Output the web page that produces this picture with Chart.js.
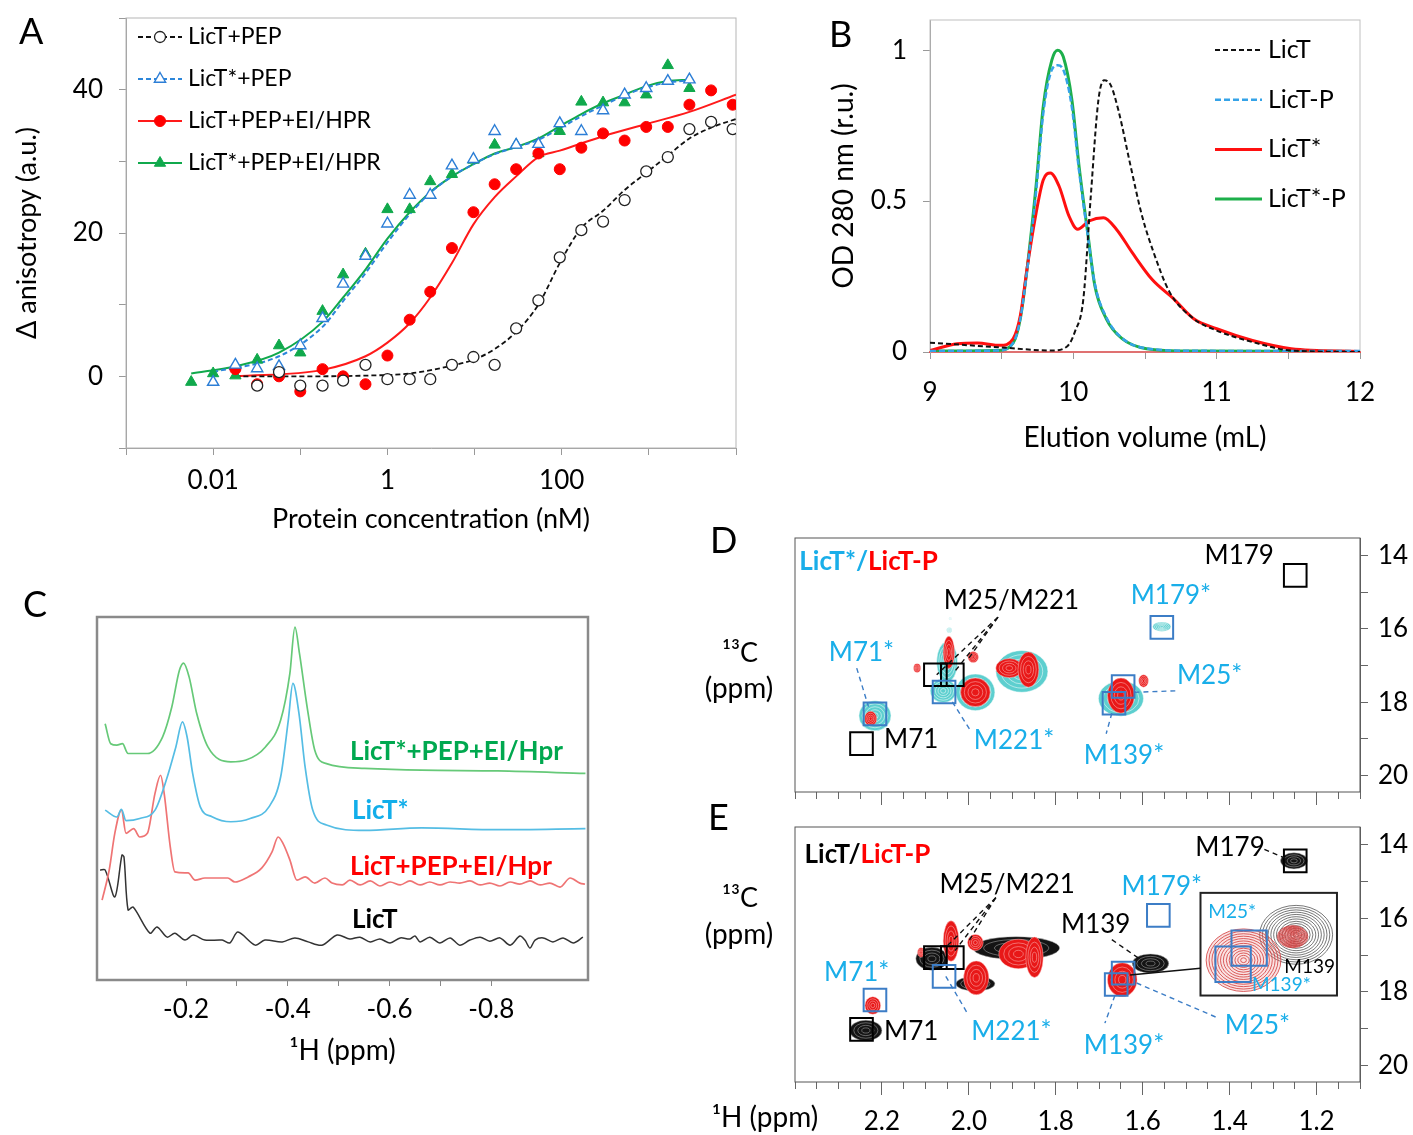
<!DOCTYPE html>
<html>
<head>
<meta charset="utf-8">
<title>LicT figure</title>
<script src="https://cdn.jsdelivr.net/npm/chart.js@4.4.1/dist/chart.umd.min.js"></script>
<style>
  html, body { margin: 0; padding: 0; background: #fff; }
  #page { position: relative; width: 1413px; height: 1135px; overflow: hidden; background: #fff; }
  #page canvas { position: absolute; }
  .tag { position: absolute; font: 36px Lato, "DejaVu Sans", sans-serif; line-height: 36px; color: #000; }
</style>
</head>
<body>
<div id="page">
  <canvas id="chartA" width="760" height="540" style="left:0px;top:0px"></canvas>
  <canvas id="chartB" width="613" height="460" style="left:800px;top:0px"></canvas>
  <canvas id="chartC" width="600" height="500" style="left:0px;top:580px"></canvas>
  <canvas id="chartD" width="713" height="290" style="left:700px;top:520px"></canvas>
  <canvas id="chartE" width="713" height="335" style="left:700px;top:800px"></canvas>
  <div class="tag" style="left:19px;top:12px">A</div>
  <div class="tag" style="left:829px;top:15px">B</div>
  <div class="tag" style="left:23px;top:585px">C</div>
  <div class="tag" style="left:710px;top:521px">D</div>
  <div class="tag" style="left:708px;top:798px">E</div>
</div>
<script>
const FONT = 'Lato, "DejaVu Sans", sans-serif';
const CYAN_TXT = '#19AEE9';
const BOX_BLUE = '#3C7DC6';

// ---------- A: anisotropy titration (nM, a.u.) ----------
const concPEP = [0.032, 0.057, 0.10, 0.18, 0.31, 0.56, 1.0, 1.8, 3.1, 5.5, 9.7, 17, 30, 54, 95, 168, 298, 527, 933, 1650, 2920, 5180, 9160];
const anisoPEP = [-1.3, 0.6, -1.3, -1.3, -0.6, 1.6, -0.4, -0.4, -0.4, 1.6, 2.7, 1.6, 6.7, 10.6, 16.6, 20.4, 21.6, 24.6, 28.6, 30.6, 34.5, 35.5, 34.5];
const concStarPEP = [0.01, 0.018, 0.032, 0.057, 0.10, 0.18, 0.31, 0.56, 1.0, 1.8, 3.1, 5.5, 9.7, 17, 30, 54, 95, 168, 298, 527, 933, 1650, 2920];
const anisoStarPEP = [-0.8, 1.6, 1.1, 1.4, 4.3, 8.1, 12.9, 16.8, 21.3, 25.3, 25.3, 29.4, 30.3, 34.2, 32.3, 32.4, 35.3, 34.2, 37.1, 39.3, 40.2, 41.2, 41.4];
const concEI = [0.018, 0.032, 0.057, 0.10, 0.18, 0.31, 0.56, 1.0, 1.8, 3.1, 5.5, 9.7, 17, 30, 54, 95, 168, 298, 527, 933, 1650, 2920, 5180, 9160];
const anisoEI = [1.0, -1.1, 0, -2.1, 1.0, 0, -1.1, 2.9, 7.9, 11.8, 17.9, 22.9, 26.8, 28.9, 31.1, 28.9, 31.9, 33.9, 32.9, 34.8, 34.8, 37.9, 39.9, 37.9];
const concStarEI = [0.0056, 0.01, 0.018, 0.032, 0.057, 0.10, 0.18, 0.31, 0.56, 1.0, 1.8, 3.1, 5.5, 9.7, 17, 30, 54, 95, 168, 298, 527, 933, 1650, 2920];
const anisoStarEI = [-0.8, 0.4, 0.1, 2.3, 4.3, 3.3, 9.1, 14.2, 17.1, 23.3, 23.3, 27.2, 28.2, 30.2, 32.3, 32.3, 31.1, 34.2, 38.3, 38.2, 38.2, 39.3, 43.4, 40.2];
// fitted curves
const fitPEPx = [0.018, 0.1, 0.56, 1.8, 5.5, 9.7, 17, 30, 54, 95, 168, 298, 527, 933, 1650, 2920, 5180, 10000];
const fitPEPy = [0, 0, 0.1, 0.4, 1.5, 2.3, 3.8, 6.2, 10, 15.8, 20.7, 23.1, 26, 28.4, 30.8, 33.2, 34.7, 35.9];
const fitStarPEPx = [0.01, 0.057, 0.18, 0.31, 0.56, 1.0, 1.8, 3.1, 5.5, 9.7, 17, 30, 54, 95, 168, 298, 527, 933, 1650, 2920];
const fitStarPEPy = [0.6, 2.8, 6.9, 10.5, 14.4, 18.7, 22.6, 25.6, 27.9, 29.6, 31.0, 32, 33, 34.6, 36.3, 37.8, 39.2, 40.3, 41.0, 41.3];
const fitEIx = [0.018, 0.18, 0.56, 1.0, 1.8, 3.1, 5.5, 9.7, 17, 30, 54, 95, 298, 933, 2920, 10000];
const fitEIy = [0, 0.9, 2.8, 4.7, 7.4, 11, 15.8, 21.2, 25, 27.9, 30.6, 31.5, 33.5, 35.2, 36.9, 39.3];
const fitStarEIx = [0.0056, 0.018, 0.057, 0.18, 0.31, 0.56, 1.0, 1.8, 3.1, 5.5, 9.7, 17, 30, 54, 95, 168, 298, 527, 933, 1650, 2920];
const fitStarEIy = [0.4, 1.4, 3.3, 7.6, 11, 14.9, 19.2, 22.9, 25.7, 27.9, 29.6, 31.1, 32, 33.2, 34.9, 36.6, 38.1, 39.3, 40.5, 41.2, 41.4];
const ticksConcLabelled = [0.01, 1, 100];

// ---------- B: size exclusion profiles (mL, OD280) ----------
const elLicT = [9.0, 9.47, 9.85, 9.96, 10.01, 10.07, 10.12, 10.175, 10.215, 10.26, 10.315, 10.4, 10.48, 10.56, 10.67, 10.84, 11.0, 11.25, 11.52, 12.0];
const odLicT = [0.031, 0.016, 0.005, 0.02, 0.066, 0.176, 0.505, 0.835, 0.90, 0.885, 0.80, 0.615, 0.45, 0.33, 0.20, 0.11, 0.071, 0.033, 0.005, 0.0];
const elStar = [9.0, 9.19, 9.33, 9.49, 9.58, 9.63, 9.68, 9.74, 9.79, 9.84, 9.9, 9.97, 10.03, 10.11, 10.21, 10.3, 10.41, 10.55, 10.7, 10.84, 11.0, 11.25, 11.52, 12.0];
const odStar = [0.005, 0.027, 0.03, 0.022, 0.044, 0.12, 0.286, 0.46, 0.57, 0.593, 0.55, 0.45, 0.407, 0.434, 0.445, 0.407, 0.33, 0.24, 0.176, 0.11, 0.077, 0.038, 0.011, 0.002];
const elP = [9.0, 9.47, 9.58, 9.63, 9.68, 9.74, 9.79, 9.85, 9.89, 9.93, 9.99, 10.04, 10.1, 10.15, 10.23, 10.34, 10.51, 10.84, 12.0];
const odLicTP = [0.003, 0.005, 0.03, 0.11, 0.28, 0.53, 0.79, 0.935, 0.95, 0.935, 0.81, 0.6, 0.39, 0.225, 0.115, 0.046, 0.012, 0.004, 0.003];
const odStarP = [0.003, 0.005, 0.03, 0.11, 0.286, 0.55, 0.813, 0.967, 1.0, 0.978, 0.835, 0.615, 0.396, 0.22, 0.11, 0.044, 0.011, 0.003, 0.002];

// ---------- C: 1D 1H spectra (ppm, stacked intensity) ----------
const ppmGreen = [-0.041, -0.052, -0.064, -0.075, -0.086, -0.124, -0.154, -0.172, -0.187, -0.195, -0.206, -0.221, -0.243, -0.288, -0.318, -0.356, -0.386, -0.404, -0.414, -0.423, -0.438, -0.453, -0.476, -0.551, -0.663, -0.813, -0.985];
const intGreen = [70.6, 65.1, 64.7, 65.1, 62.4, 62.4, 67.0, 75.2, 85.3, 87.3, 83.5, 73.4, 64.2, 60.1, 60.6, 64.2, 71.6, 84.4, 97.2, 89.9, 75.2, 63.3, 59.6, 58.3, 57.8, 57.6, 56.9];
const ppmBlue = [-0.041, -0.064, -0.073, -0.082, -0.109, -0.139, -0.161, -0.180, -0.193, -0.202, -0.213, -0.228, -0.251, -0.288, -0.326, -0.363, -0.386, -0.401, -0.410, -0.422, -0.434, -0.449, -0.476, -0.551, -0.663, -0.813, -0.985];
const intBlue = [46.8, 44.9, 47.0, 43.9, 44.5, 46.8, 55.0, 64.2, 71.1, 67.0, 56.9, 47.7, 45.0, 43.6, 44.5, 47.7, 56.0, 71.6, 81.7, 73.4, 58.7, 46.8, 42.7, 41.2, 41.9, 41.4, 41.7];
const ppmRed = [-0.035, -0.049, -0.060, -0.073, -0.082, -0.097, -0.109, -0.124, -0.139, -0.150, -0.157, -0.169, -0.178, -0.204, -0.218, -0.237, -0.263, -0.282, -0.296, -0.322, -0.349, -0.369, -0.381, -0.391, -0.404, -0.418, -0.434, -0.453, -0.473, -0.487, -0.507, -0.522, -0.542, -0.562, -0.581, -0.601, -0.621, -0.640, -0.660, -0.679, -0.699, -0.719, -0.738, -0.758, -0.778, -0.797, -0.817, -0.837, -0.856, -0.876, -0.896, -0.915, -0.935, -0.955, -0.974, -0.984];
const intRed = [22.0, 30.3, 40.4, 46.8, 40.4, 41.7, 39.4, 40.4, 51.4, 56.4, 51.4, 36.7, 29.8, 29.5, 27.5, 28.1, 28.1, 28.1, 27.0, 28.4, 30.9, 35.3, 39.4, 37.5, 33.1, 27.5, 28.4, 26.7, 28.1, 26.7, 26.2, 27.5, 26.2, 27.3, 25.9, 27.0, 26.2, 27.3, 26.2, 27.0, 26.2, 27.0, 26.7, 27.3, 26.2, 26.7, 25.9, 27.0, 26.4, 27.3, 26.2, 26.7, 25.6, 28.1, 26.7, 26.4];
const ppmBlack = [-0.031, -0.041, -0.060, -0.074, -0.078, -0.086, -0.096, -0.129, -0.143, -0.163, -0.178, -0.198, -0.214, -0.237, -0.271, -0.286, -0.302, -0.336, -0.355, -0.389, -0.414, -0.440, -0.467, -0.497, -0.522, -0.542, -0.562, -0.581, -0.601, -0.621, -0.640, -0.650, -0.660, -0.679, -0.699, -0.719, -0.738, -0.758, -0.778, -0.797, -0.817, -0.837, -0.856, -0.866, -0.876, -0.886, -0.902, -0.921, -0.941, -0.961, -0.980];
const intBlack = [30.3, 30.3, 22.9, 34.4, 33.9, 19.3, 20.1, 12.9, 14.6, 11.8, 12.9, 11.0, 12.4, 11.0, 11.0, 10.2, 13.2, 9.6, 11.0, 10.5, 11.6, 10.5, 9.6, 12.4, 11.3, 11.8, 10.5, 11.3, 10.2, 11.6, 11.3, 12.1, 10.5, 11.8, 10.2, 11.6, 9.6, 11.0, 11.8, 10.7, 11.6, 9.6, 12.1, 11.0, 8.8, 11.0, 11.6, 10.5, 11.6, 10.2, 11.8];

// ---------- D/E: 2D methyl spectra, peaks [1H ppm, 13C ppm, half-width 1H, half-width 13C] ----------
const ticksH = [2.2, 2.0, 1.8, 1.6, 1.4, 1.2];
const ticks13C = [14, 15, 16, 17, 18, 19, 20];
const labels13C = [14, 16, 18, 20];
const peaksStarD = [
  [2.216, 18.37, 0.037, 0.41], [2.059, 17.69, 0.030, 0.32], [2.050, 16.90, 0.024, 0.55],
  [2.045, 16.03, 0.006, 0.07], [2.043, 15.72, 0.003, 0.04], [1.985, 17.73, 0.045, 0.50],
  [1.878, 17.16, 0.060, 0.57], [1.650, 17.90, 0.052, 0.48], [1.556, 15.94, 0.021, 0.13]
];
const peaksPhosD = [
  [2.226, 18.45, 0.014, 0.20], [2.046, 16.64, 0.013, 0.44], [2.119, 17.07, 0.008, 0.12],
  [1.990, 16.77, 0.012, 0.15], [1.985, 17.73, 0.034, 0.39], [1.907, 17.07, 0.031, 0.26],
  [1.863, 17.11, 0.024, 0.48], [1.650, 17.82, 0.031, 0.48], [1.598, 17.42, 0.011, 0.17]
];
const boxStarD = [[2.216, 18.32], [2.057, 17.72], [1.556, 15.96], [1.645, 17.57], [1.666, 18.03]];
const boxWildD = [[2.247, 19.13], [2.077, 17.25], [2.038, 17.25], [1.249, 14.54]];

const peaksWildE = [
  [2.237, 19.05, 0.037, 0.28], [2.085, 17.10, 0.037, 0.31], [1.891, 16.81, 0.100, 0.31],
  [1.985, 17.78, 0.045, 0.20], [1.582, 17.23, 0.042, 0.26], [1.252, 14.44, 0.031, 0.22]
];
const peaksPhosE = [
  [2.221, 18.37, 0.018, 0.24], [2.041, 16.62, 0.018, 0.55], [2.110, 16.93, 0.008, 0.13],
  [1.985, 16.66, 0.018, 0.22], [1.983, 17.62, 0.029, 0.46], [1.886, 16.97, 0.045, 0.40],
  [1.849, 17.06, 0.020, 0.55], [1.647, 17.67, 0.034, 0.46]
];
const boxStarE = [[2.216, 18.22], [2.057, 17.58], [1.564, 15.92], [1.645, 17.49], [1.661, 17.80]];
const boxWildE = [[2.247, 19.02], [2.077, 17.07], [2.038, 17.07], [1.249, 14.44]];
// magnified view of the M25*/M139 region
const insetWild = [[1.247, 16.45, 0.084, 0.80]];
const insetPhos = [[1.368, 17.14, 0.086, 0.85], [1.255, 16.50, 0.035, 0.30]];
const insetBoxes = [[1.355, 16.81], [1.392, 17.25]];

const pts = (xs, ys) => xs.map((x, i) => ({ x, y: ys[i] }));
const peakPts = arr => arr.map(p => ({ x: p[0], y: p[1], wx: p[2], wy: p[3] }));
const xyPts = arr => arr.map(p => ({ x: p[0], y: p[1] }));
const f = (size, weight) => ({ family: FONT, size, weight: weight || 'normal' });
const near = (a, b) => Math.abs(a - b) < 1e-6;
// fixed axis box sizes, no automatic label overhang padding
const fixW = w => s => { s.width = w; s.paddingTop = 0; s.paddingBottom = 0; s.paddingLeft = 0; s.paddingRight = 0; };
const fixH = h => s => { s.height = h; s.paddingTop = 0; s.paddingBottom = 0; s.paddingLeft = 0; s.paddingRight = 0; };

Chart.defaults.font.family = FONT;
Chart.defaults.color = '#000';
Chart.defaults.animation = false;
Chart.defaults.responsive = false;
Chart.defaults.plugins.legend.display = false;
Chart.defaults.plugins.tooltip.enabled = false;

// box around the plot area
const framePlugin = {
  id: 'frame',
  beforeDatasetsDraw(chart, args, o) {
    if (!o.color) return;
    const a = chart.chartArea, ctx = chart.ctx;
    ctx.save();
    ctx.strokeStyle = o.color; ctx.lineWidth = o.width || 1;
    ctx.strokeRect(a.left, a.top, a.right - a.left, a.bottom - a.top);
    ctx.restore();
  }
};

// legend with line sample + marker
const keyPlugin = {
  id: 'key',
  afterDraw(chart, args, o) {
    if (!o.items) return;
    const ctx = chart.ctx;
    ctx.save();
    ctx.font = o.font; ctx.textBaseline = 'middle';
    o.items.forEach((it, i) => {
      const y = o.y + i * o.dy;
      const ln = chart.data.datasets[it.line];
      ctx.strokeStyle = ln.borderColor; ctx.lineWidth = ln.borderWidth;
      ctx.setLineDash(ln.borderDash || []);
      ctx.beginPath(); ctx.moveTo(o.x, y); ctx.lineTo(o.x + o.len, y); ctx.stroke();
      ctx.setLineDash([]);
      if (it.mark != null) {
        const m = chart.data.datasets[it.mark];
        ctx.fillStyle = m.backgroundColor; ctx.strokeStyle = m.borderColor; ctx.lineWidth = m.borderWidth;
        Chart.helpers.drawPoint(ctx, { pointStyle: m.pointStyle, radius: m.pointRadius, rotation: 0, borderWidth: m.borderWidth }, o.x + o.len / 2, y);
      }
      ctx.fillStyle = '#000';
      ctx.fillText(ln.label, o.x + o.len + o.gap, y);
    });
    ctx.restore();
  }
};

// text labels and leader lines placed in data coordinates (or canvas px)
const notesPlugin = {
  id: 'notes',
  afterDatasetsDraw(chart, args, o) {
    const ctx = chart.ctx, xs = chart.scales.x, ys = chart.scales.y;
    const P = (t, k) => t.px ? t[k] : (k === 'x' ? xs.getPixelForValue(t.x) : ys.getPixelForValue(t.y));
    ctx.save();
    (o.lines || []).forEach(l => {
      ctx.strokeStyle = l.color; ctx.lineWidth = l.width || 1.4; ctx.setLineDash(l.dash || []);
      ctx.beginPath();
      ctx.moveTo(xs.getPixelForValue(l.x1), ys.getPixelForValue(l.y1));
      ctx.lineTo(xs.getPixelForValue(l.x2), ys.getPixelForValue(l.y2));
      ctx.stroke();
    });
    ctx.setLineDash([]);
    (o.texts || []).forEach(t => {
      ctx.font = t.font; ctx.textBaseline = 'middle'; ctx.textAlign = 'left';
      const parts = t.parts || [[t.text, t.color]];
      const total = parts.reduce((s, p) => s + ctx.measureText(p[0]).width, 0);
      let x = P(t, 'x');
      const y = P(t, 'y');
      if (t.align === 'center') x -= total / 2; else if (t.align === 'right') x -= total;
      parts.forEach(p => { ctx.fillStyle = p[1]; ctx.fillText(p[0], x, y); x += ctx.measureText(p[0]).width; });
    });
    ctx.restore();
  }
};

function drawBlob(ctx, cx, cy, rx, ry, c) {
  if (c.fill) {
    ctx.fillStyle = c.fill;
    ctx.beginPath(); ctx.ellipse(cx, cy, rx, ry, 0, 0, 2 * Math.PI); ctx.fill();
  }
  ctx.strokeStyle = c.ring; ctx.lineWidth = c.lineWidth;
  for (let k = c.levels; k >= 1; k--) {
    const s = k / c.levels;
    ctx.beginPath(); ctx.ellipse(cx, cy, rx * s, ry * s, 0, 0, 2 * Math.PI); ctx.stroke();
  }
}

// contour-like peaks + optional magnified inset
const contourPlugin = {
  id: 'contours',
  beforeDatasetsDraw(chart, args, o) {
    const ctx = chart.ctx, xs = chart.scales.x, ys = chart.scales.y, a = chart.chartArea;
    ctx.save();
    ctx.beginPath(); ctx.rect(a.left, a.top, a.right - a.left, a.bottom - a.top); ctx.clip();
    chart.data.datasets.forEach((ds, i) => {
      if (!ds.contour) return;
      const meta = chart.getDatasetMeta(i);
      ds.data.forEach((p, j) => {
        const el = meta.data[j];
        const rx = Math.abs(xs.getPixelForValue(p.x + p.wx) - el.x);
        const ry = Math.abs(ys.getPixelForValue(p.y + p.wy) - el.y);
        drawBlob(ctx, el.x, el.y, rx, ry, ds.contour);
      });
    });
    if (o.inset) {
      const b = o.inset;
      const x1 = xs.getPixelForValue(b.x1), x2 = xs.getPixelForValue(b.x2);
      const y1 = ys.getPixelForValue(b.y1), y2 = ys.getPixelForValue(b.y2);
      ctx.fillStyle = '#fff'; ctx.fillRect(x1, y1, x2 - x1, y2 - y1);
      ctx.save();
      ctx.beginPath(); ctx.rect(x1, y1, x2 - x1, y2 - y1); ctx.clip();
      b.sets.forEach(s => s.peaks.forEach(p => {
        const cx = xs.getPixelForValue(p[0]), cy = ys.getPixelForValue(p[1]);
        drawBlob(ctx, cx, cy, Math.abs(xs.getPixelForValue(p[0] + p[2]) - cx), Math.abs(ys.getPixelForValue(p[1] + p[3]) - cy), s.style);
      }));
      ctx.restore();
      ctx.strokeStyle = '#222'; ctx.lineWidth = 2;
      ctx.strokeRect(x1, y1, x2 - x1, y2 - y1);
    }
    ctx.restore();
  }
};

function build() {
  // ---------------- Panel A ----------------
  new Chart(document.getElementById('chartA'), {
    type: 'scatter',
    data: { datasets: [
      { label: 'LicT+PEP', data: pts(concPEP, anisoPEP), pointStyle: 'circle', pointRadius: 5.5, backgroundColor: '#fff', borderColor: '#222', borderWidth: 1.3 },
      { label: 'LicT*+PEP', data: pts(concStarPEP, anisoStarPEP), pointStyle: 'triangle', pointRadius: 6.5, backgroundColor: '#fff', borderColor: '#2C7ED6', borderWidth: 1.4 },
      { label: 'LicT+PEP+EI/HPR', data: pts(concEI, anisoEI), pointStyle: 'circle', pointRadius: 5.5, backgroundColor: '#FF0000', borderColor: '#FF0000', borderWidth: 1 },
      { label: 'LicT*+PEP+EI/HPR', data: pts(concStarEI, anisoStarEI), pointStyle: 'triangle', pointRadius: 6.5, backgroundColor: '#10A94C', borderColor: '#10A94C', borderWidth: 1 },
      { label: 'LicT+PEP', data: pts(fitPEPx, fitPEPy), showLine: true, pointRadius: 0, borderColor: '#111', borderWidth: 1.8, borderDash: [5, 3], cubicInterpolationMode: 'monotone' },
      { label: 'LicT*+PEP', data: pts(fitStarPEPx, fitStarPEPy), showLine: true, pointRadius: 0, borderColor: '#2C86DA', borderWidth: 2, borderDash: [5, 3], cubicInterpolationMode: 'monotone' },
      { label: 'LicT+PEP+EI/HPR', data: pts(fitEIx, fitEIy), showLine: true, pointRadius: 0, borderColor: '#FF1A1A', borderWidth: 2, cubicInterpolationMode: 'monotone' },
      { label: 'LicT*+PEP+EI/HPR', data: pts(fitStarEIx, fitStarEIy), showLine: true, pointRadius: 0, borderColor: '#10A94C', borderWidth: 2, cubicInterpolationMode: 'monotone' }
    ] },
    options: {
      layout: { padding: { top: 18, right: 24, left: 0, bottom: 0 } },
      scales: {
        x: {
          type: 'logarithmic', min: 0.001, max: 10000,
          afterFit: fixH(92),
          afterBuildTicks: s => { s.ticks = s.ticks.filter(t => near(Math.log10(t.value), Math.round(Math.log10(t.value)))); },
          ticks: { autoSkip: false, maxRotation: 0, padding: 10, font: f(26),
            callback: v => { const hit = ticksConcLabelled.find(t => near(Math.log10(t), Math.log10(v))); return hit !== undefined ? String(hit) : ''; } },
          grid: { drawOnChartArea: false, tickLength: 7, color: '#999' },
          border: { color: '#999' },
          title: { display: true, text: 'Protein concentration (nM)', font: f(27), padding: 5 }
        },
        y: {
          min: -10, max: 50,
          afterFit: fixW(126),
          ticks: { stepSize: 10, padding: 16, font: f(26), callback: v => (v === 0 || v === 20 || v === 40) ? v : '' },
          grid: { drawOnChartArea: false, tickLength: 7, color: '#999' },
          border: { color: '#999' },
          title: { display: true, text: 'Δ anisotropy (a.u.)', font: f(27), padding: 11 }
        }
      },
      plugins: {
        frame: { color: '#b5b5b5', width: 1 },
        key: { x: 138, y: 37, dy: 42, len: 44, gap: 6, font: '23px ' + FONT,
          items: [{ line: 4, mark: 0 }, { line: 5, mark: 1 }, { line: 6, mark: 2 }, { line: 7, mark: 3 }] }
      }
    },
    plugins: [framePlugin, keyPlugin]
  });

  // ---------------- Panel B ----------------
  new Chart(document.getElementById('chartB'), {
    type: 'scatter',
    data: { datasets: [
      { label: 'LicT', data: pts(elLicT, odLicT), showLine: true, pointRadius: 0, borderColor: '#111', borderWidth: 2, borderDash: [5, 3], cubicInterpolationMode: 'monotone' },
      { label: 'LicT-P', data: pts(elP, odLicTP), showLine: true, pointRadius: 0, borderColor: '#35A3E8', borderWidth: 2.5, borderDash: [6, 3], cubicInterpolationMode: 'monotone' },
      { label: 'LicT*', data: pts(elStar, odStar), showLine: true, pointRadius: 0, borderColor: '#FF1010', borderWidth: 3, cubicInterpolationMode: 'monotone' },
      { label: 'LicT*-P', data: pts(elP, odStarP), showLine: true, pointRadius: 0, borderColor: '#1DAF4B', borderWidth: 3, cubicInterpolationMode: 'monotone' }
    ] },
    options: {
      layout: { padding: { top: 20, right: 53, left: 0, bottom: 0 } },
      scales: {
        x: {
          min: 9, max: 12,
          afterFit: fixH(108),
          ticks: { stepSize: 0.5, autoSkip: false, maxRotation: 0, padding: 18, font: f(26), callback: v => Number.isInteger(v) ? v : '' },
          grid: { drawOnChartArea: false, tickLength: 7, color: '#999' },
          border: { color: '#F22', width: 2 },
          title: { display: true, text: 'Elution volume (mL)', font: f(28), padding: 5 }
        },
        y: {
          min: 0, max: 1.1,
          afterFit: fixW(130),
          ticks: { stepSize: 0.5, padding: 16, font: f(26), callback: v => (v === 0 || v === 0.5 || v === 1) ? v : '' },
          grid: { drawOnChartArea: false, tickLength: 7, color: c => c.tick && c.tick.value > 1.05 ? 'rgba(0,0,0,0)' : '#999' },
          border: { color: '#999' },
          title: { display: true, text: 'OD 280 nm (r.u.)', font: f(28), padding: 27 }
        }
      },
      plugins: {
        frame: { color: '#c0c0c0', width: 1 },
        key: { x: 415, y: 50, dy: 49.7, len: 47, gap: 6, font: '25px ' + FONT,
          items: [{ line: 0 }, { line: 1 }, { line: 2 }, { line: 3 }] }
      }
    },
    plugins: [framePlugin, keyPlugin]
  });

  // ---------------- Panel C ----------------
  new Chart(document.getElementById('chartC'), {
    type: 'scatter',
    data: { datasets: [
      { data: pts(ppmGreen, intGreen), showLine: true, pointRadius: 0, borderColor: '#66C978', borderWidth: 1.7, cubicInterpolationMode: 'monotone' },
      { data: pts(ppmBlue, intBlue), showLine: true, pointRadius: 0, borderColor: '#55BDE4', borderWidth: 1.7, cubicInterpolationMode: 'monotone' },
      { data: pts(ppmRed, intRed), showLine: true, pointRadius: 0, borderColor: '#EF7474', borderWidth: 1.7, cubicInterpolationMode: 'monotone' },
      { data: pts(ppmBlack, intBlack), showLine: true, pointRadius: 0, borderColor: '#333', borderWidth: 1.5, tension: 0.3 }
    ] },
    options: {
      layout: { padding: { top: 37, right: 12, left: 0, bottom: 0 } },
      scales: {
        x: {
          reverse: true, min: -0.99, max: -0.025,
          afterFit: fixH(100),
          ticks: { stepSize: 0.1, autoSkip: false, maxRotation: 0, padding: 8, font: f(26),
            callback: v => { const r = Math.round(v * 10); return (near(v * 10, r) && r % 2 === 0 && r < 0) ? v.toFixed(1) : ''; } },
          grid: { drawOnChartArea: false, tickLength: 6, color: c => c.tick && near(c.tick.value * 10, Math.round(c.tick.value * 10)) ? '#888' : 'rgba(0,0,0,0)' },
          border: { display: false },
          title: { display: true, text: '¹H (ppm)', font: f(28), padding: 12 }
        },
        y: {
          min: 0, max: 100,
          afterFit: fixW(97),
          ticks: { display: false },
          grid: { display: false },
          border: { display: false }
        }
      },
      plugins: {
        frame: { color: '#8a8a8a', width: 2.5 },
        notes: { texts: [
          { x: -0.522, y: 62.9, text: 'LicT*+PEP+EI/Hpr', color: '#00A84F', font: 'bold 26px ' + FONT },
          { x: -0.526, y: 46.8, text: 'LicT*', color: '#12AEEA', font: 'bold 26px ' + FONT },
          { x: -0.522, y: 31.2, text: 'LicT+PEP+EI/Hpr', color: '#FF0000', font: 'bold 26px ' + FONT },
          { x: -0.526, y: 16.5, text: 'LicT', color: '#000', font: 'bold 26px ' + FONT }
        ] }
      }
    },
    plugins: [framePlugin, notesPlugin]
  });

  // ---------------- Panels D and E ----------------
  const cyanStyle = { fill: 'rgba(52,195,195,0.80)', ring: 'rgba(255,255,255,0.75)', lineWidth: 0.7, levels: 5 };
  const redStyle = { fill: '#E81818', ring: 'rgba(255,200,200,0.8)', lineWidth: 0.6, levels: 4 };
  const blackStyle = { fill: '#141414', ring: 'rgba(190,190,190,0.8)', lineWidth: 0.6, levels: 4 };

  function nmrScales(bottomH, showLabels) {
    return {
      x: {
        reverse: true, min: 1.1, max: 2.4, weight: 0,
        afterFit: fixH(0),
        ticks: { display: false, stepSize: 0.05 },
        grid: { drawOnChartArea: false, tickLength: 7, color: '#666' },
        border: { display: false }
      },
      x2: {
        type: 'linear', position: 'bottom', reverse: true, min: 1.1, max: 2.4, weight: 1,
        afterFit: fixH(bottomH),
        afterBuildTicks: s => { s.ticks = ticksH.map(v => ({ value: v })); },
        ticks: { display: showLabels, autoSkip: false, maxRotation: 0, padding: 11, font: f(26), callback: v => v.toFixed(1) },
        grid: { drawOnChartArea: false, tickLength: 13, color: '#666' },
        border: { display: false }
      },
      y: {
        position: 'right', reverse: true, min: 13.52, max: 20.45,
        afterFit: fixW(53),
        afterBuildTicks: s => { s.ticks = ticks13C.map(v => ({ value: v })); },
        ticks: { padding: 10, font: f(26), callback: v => labels13C.includes(v) ? v : '' },
        grid: { drawOnChartArea: false, tickLength: 8, color: '#666' },
        border: { color: '#666' }
      }
    };
  }
  const boxSet = (arr, color, r) => ({ data: xyPts(arr), pointStyle: 'rect', pointRadius: r, backgroundColor: 'rgba(0,0,0,0)', borderColor: color, borderWidth: 2 });
  const T = (x, y, text, color, align) => ({ x, y, text, color, align: align || 'center', font: '26px ' + FONT });
  const dashB = (x1, y1, x2, y2) => ({ x1, y1, x2, y2, color: BOX_BLUE, dash: [5, 4] });
  const dashK = (x1, y1, x2, y2) => ({ x1, y1, x2, y2, color: '#111', dash: [5, 4] });

  new Chart(document.getElementById('chartD'), {
    type: 'scatter',
    data: { datasets: [
      { data: peakPts(peaksStarD), pointRadius: 0, contour: cyanStyle },
      { data: peakPts(peaksPhosD), pointRadius: 0, contour: redStyle },
      boxSet(boxStarD, BOX_BLUE, 16),
      boxSet(boxWildD, '#000', 16)
    ] },
    options: {
      layout: { padding: { top: 12, left: 95, right: 0, bottom: 0 } },
      scales: nmrScales(15, false),
      plugins: {
        frame: { color: '#555', width: 1 },
        notes: {
          lines: [
            dashB(2.258, 17.07, 2.231, 18.12), dashB(2.038, 17.99, 1.996, 18.78),
            dashB(1.671, 18.30, 1.684, 18.86), dashB(1.619, 17.73, 1.525, 17.69),
            dashK(1.933, 15.68, 2.074, 17.25), dashK(1.933, 15.68, 2.035, 17.20), dashK(1.933, 15.68, 2.000, 16.80)
          ],
          texts: [
            { x: 2.39, y: 14.17, parts: [['LicT*/', CYAN_TXT], ['LicT-P', '#F00']], font: 'bold 26px ' + FONT },
            T(1.378, 14.0, 'M179', '#000'), T(1.902, 15.22, 'M25/M221', '#000'), T(1.535, 15.09, 'M179*', CYAN_TXT),
            T(2.247, 16.66, 'M71*', CYAN_TXT), T(1.446, 17.27, 'M25*', CYAN_TXT), T(2.195, 19.02, 'M71', '#000', 'left'),
            T(1.896, 19.06, 'M221*', CYAN_TXT), T(1.643, 19.46, 'M139*', CYAN_TXT),
            { px: true, x: 40, y: 133, text: '¹³C', color: '#000', align: 'center', font: '27px ' + FONT },
            { px: true, x: 39, y: 169, text: '(ppm)', color: '#000', align: 'center', font: '28px ' + FONT }
          ]
        }
      }
    },
    plugins: [framePlugin, contourPlugin, notesPlugin]
  });

  new Chart(document.getElementById('chartE'), {
    type: 'scatter',
    data: { datasets: [
      { data: peakPts(peaksWildE), pointRadius: 0, contour: blackStyle },
      { data: peakPts(peaksPhosE), pointRadius: 0, contour: redStyle },
      boxSet(boxStarE, BOX_BLUE, 16),
      boxSet(boxWildE, '#000', 16),
      boxSet(insetBoxes, BOX_BLUE, 25)
    ] },
    options: {
      layout: { padding: { top: 18, left: 95, right: 0, bottom: 0 } },
      scales: nmrScales(53, true),
      plugins: {
        frame: { color: '#555', width: 1 },
        contours: { inset: { x1: 1.467, y1: 15.31, x2: 1.153, y2: 18.10, sets: [
          { peaks: insetWild, style: { ring: '#555', lineWidth: 0.8, levels: 13 } },
          { peaks: insetPhos, style: { fill: 'rgba(235,140,140,0.25)', ring: '#D23A3A', lineWidth: 0.8, levels: 13 } }
        ] } },
        notes: {
          lines: [
            dashK(1.320, 14.13, 1.268, 14.39), dashK(1.671, 16.58, 1.603, 17.14),
            dashK(1.938, 15.44, 2.053, 16.79), dashK(1.938, 15.44, 2.032, 16.88), dashK(1.938, 15.44, 2.000, 16.62),
            dashB(2.053, 17.58, 2.001, 18.63), dashB(1.664, 18.10, 1.687, 18.85), dashB(1.614, 17.76, 1.425, 18.72),
            { x1: 1.629, y1: 17.54, x2: 1.467, y2: 17.36, color: '#111', width: 1.6 }
          ],
          texts: [
            { x: 2.378, y: 14.26, parts: [['LicT/', '#000'], ['LicT-P', '#F00']], font: 'bold 26px ' + FONT },
            T(1.399, 14.09, 'M179', '#000'), T(1.912, 15.09, 'M25/M221', '#000'), T(1.556, 15.14, 'M179*', CYAN_TXT),
            T(1.708, 16.18, 'M139', '#000'), T(2.258, 17.49, 'M71*', CYAN_TXT), T(2.195, 19.07, 'M71', '#000', 'left'),
            T(1.902, 19.07, 'M221*', CYAN_TXT), T(1.643, 19.46, 'M139*', CYAN_TXT), T(1.336, 18.93, 'M25*', CYAN_TXT),
            { x: 1.394, y: 15.83, text: 'M25*', color: CYAN_TXT, align: 'center', font: '19px ' + FONT },
            { x: 1.216, y: 17.32, text: 'M139', color: '#000', align: 'center', font: '19px ' + FONT },
            { x: 1.281, y: 17.80, text: 'M139*', color: CYAN_TXT, align: 'center', font: '19px ' + FONT },
            { px: true, x: 40, y: 98, text: '¹³C', color: '#000', align: 'center', font: '27px ' + FONT },
            { px: true, x: 39, y: 135, text: '(ppm)', color: '#000', align: 'center', font: '28px ' + FONT },
            { px: true, x: 65, y: 318, text: '¹H (ppm)', color: '#000', align: 'center', font: '28px ' + FONT }
          ]
        }
      }
    },
    plugins: [framePlugin, contourPlugin, notesPlugin]
  });
}

Promise.all([
  document.fonts.load('25px Lato'),
  document.fonts.load('bold 24px Lato')
]).catch(() => null).then(build);
</script>
</body>
</html>
